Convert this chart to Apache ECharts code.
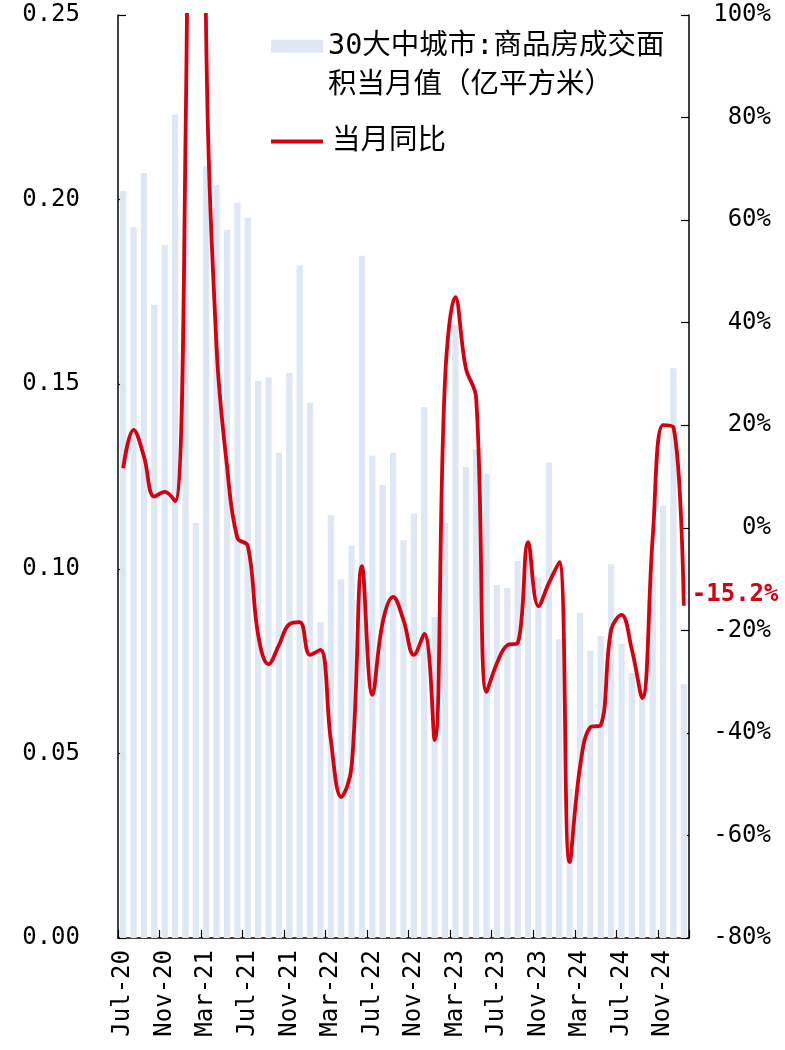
<!DOCTYPE html>
<html><head><meta charset="utf-8">
<script src="https://cdn.jsdelivr.net/npm/echarts@6/dist/echarts.min.js"></script>
<style>html,body{margin:0;padding:0;background:#fff}#c{width:785px;height:1050px}</style>
</head><body><div id="c"></div>
<script>
// Categories (monthly, Jul-20 .. Jan-25)
const months = [
 'Jul-20','Aug-20','Sep-20','Oct-20','Nov-20','Dec-20',
 'Jan-21','Feb-21','Mar-21','Apr-21','May-21','Jun-21','Jul-21','Aug-21','Sep-21','Oct-21','Nov-21','Dec-21',
 'Jan-22','Feb-22','Mar-22','Apr-22','May-22','Jun-22','Jul-22','Aug-22','Sep-22','Oct-22','Nov-22','Dec-22',
 'Jan-23','Feb-23','Mar-23','Apr-23','May-23','Jun-23','Jul-23','Aug-23','Sep-23','Oct-23','Nov-23','Dec-23',
 'Jan-24','Feb-24','Mar-24','Apr-24','May-24','Jun-24','Jul-24','Aug-24','Sep-24','Oct-24','Nov-24','Dec-24',
 'Jan-25'
];
// 30大中城市:商品房成交面积当月值（亿平方米）
const areaValues = [
 0.2023,0.1925,0.2072,0.1715,0.1877,0.2230,
 0.1929,0.1124,0.2092,0.2040,0.1918,0.1992,0.1950,0.1509,0.1519,0.1314,0.1530,0.1822,
 0.1450,0.0856,0.1145,0.0972,0.1063,0.1848,0.1306,0.1227,0.1314,0.1077,0.1150,0.1438,
 0.0870,0.1125,0.1660,0.1276,0.1324,0.1257,0.0956,0.0948,0.1021,0.1060,0.0976,0.1288,
 0.0809,0.0404,0.0880,0.0779,0.0818,0.1012,0.0797,0.0718,0.0660,0.0980,0.1170,0.1543,
 0.0687
];
// 当月同比 (%)
const yoyValues = [
 11.6,19.1,13.9,6.1,7.0,5.2,
 75,300,95,35,12,-2,-3.5,-20.9,-26.6,-22.9,-18.8,-18.4,
 -24.8,-23.8,-41.4,-52.5,-46.6,-7.5,-32.6,-18.4,-13.5,-18,-24.8,-20.7,
 -41.4,28.8,45,31.2,25.3,-32,-26.4,-22.9,-22.5,-2.8,-15.3,-10.8,
 -6.7,-65.2,-46.7,-38.9,-38.5,-19.9,-17,-23.8,-33.2,-2,20,19.6,
 -15.2
];
const barName = '30大中城市:商品房成交面积当月值（亿平方米）';
const barLegendLines = ['30大中城市:商品房成交面', '积当月值（亿平方米）'];
const lineName = '当月同比';
const leftAxis = {min: 0, max: 0.25, interval: 0.05};
const rightAxis = {min: -80, max: 100, interval: 20};

const MONO = '"DejaVu Sans Mono", monospace';
const CJK = '"DejaVu Sans Mono", "Noto Sans CJK SC", sans-serif';
const RED = '#d7000f';
const BLUE = '#dde8f4';

const chart = echarts.init(document.getElementById('c'), null, {renderer: 'canvas'});

chart.setOption({
  animation: false,
  backgroundColor: '#fff',
  grid: {left: 118, right: 96, top: 15, bottom: 112, containLabel: false, outerBoundsMode: 'none'},
  legend: [
    {
      data: [{name: barName, icon: 'rect'}],
      left: 271, top: -13, padding: 0,
      itemWidth: 52, itemHeight: 13, itemGap: 0,
      selectedMode: false,
      formatter: () => '\n' + barLegendLines.join('\n'),
      textStyle: {fontFamily: CJK, fontSize: 28.5, lineHeight: 39.5, color: '#000'}
    },
    {
      data: [{name: lineName, icon: 'rect'}],
      left: 271, top: 122, padding: 0,
      itemWidth: 52, itemHeight: 4, itemGap: 0,
      selectedMode: false,
      textStyle: {fontFamily: CJK, fontSize: 28.5, lineHeight: 39, color: '#000', padding: [0, 0, 0, 4]}
    }
  ],
  xAxis: {
    type: 'category', data: months, boundaryGap: true,
    axisLine: {show: true, lineStyle: {color: '#000', width: 1.5}},
    axisTick: {show: true, inside: true, length: 8, interval: 3, lineStyle: {color: '#000', width: 1.2}},
    axisLabel: {interval: 3, rotate: 90, margin: 12, fontFamily: MONO, fontSize: 24, color: '#000', hideOverlap: false},
    splitLine: {show: false}
  },
  yAxis: [
    {
      type: 'value', min: leftAxis.min, max: leftAxis.max, interval: leftAxis.interval,
      axisLine: {show: true, lineStyle: {color: '#000', width: 1.5}},
      axisTick: {show: true, inside: true, length: 8, lineStyle: {color: '#000', width: 1.2}},
      axisLabel: {margin: 38, fontFamily: MONO, fontSize: 24, color: '#000', formatter: v => v.toFixed(2)},
      splitLine: {show: false}
    },
    {
      type: 'value', position: 'right', min: rightAxis.min, max: rightAxis.max, interval: rightAxis.interval,
      axisLine: {show: true, lineStyle: {color: '#000', width: 1.5}},
      axisTick: {show: true, inside: true, length: 8, lineStyle: {color: '#000', width: 1.2}},
      axisLabel: {margin: 82, align: 'right', fontFamily: MONO, fontSize: 24, color: '#000', formatter: '{value}%'},
      splitLine: {show: false}
    }
  ],
  series: [
    {
      name: barName, type: 'bar', yAxisIndex: 0, data: areaValues,
      barWidth: '60%',
      itemStyle: {color: BLUE}
    },
    {
      name: lineName, type: 'line', yAxisIndex: 1, data: yoyValues,
      smooth: 0.4, symbol: 'none', clip: true,
      lineStyle: {color: RED, width: 3.8},
      itemStyle: {color: RED},
      endLabel: {
        show: true, distance: 8, offset: [0, -11],
        formatter: p => Number(p.value).toFixed(1) + '%',
        color: RED, fontSize: 24, fontWeight: 'bold', fontFamily: MONO
      }
    }
  ]
});
</script>
</body></html>
